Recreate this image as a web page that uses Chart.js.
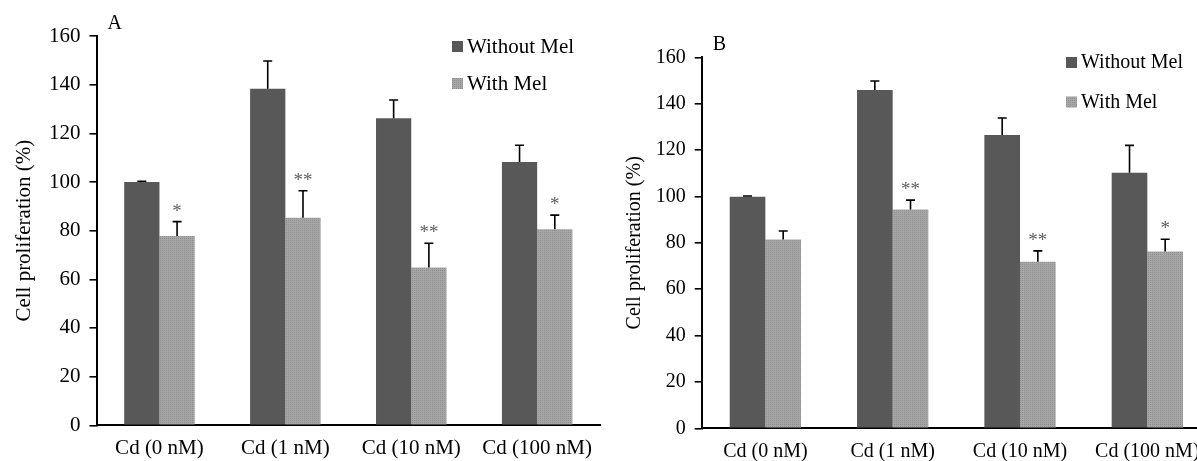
<!DOCTYPE html>
<html>
<head>
<meta charset="utf-8">
<script src="https://cdn.jsdelivr.net/npm/chart.js@4.4.1/dist/chart.umd.min.js"></script>
<style>
    html, body { margin: 0; padding: 0; background: #fff; width: 1197px; height: 461px; overflow: hidden; }
    .panel { position: absolute; top: 0; }
    #panelA { left: 0; width: 603px; height: 461px; }
    #panelB { left: 600px; width: 611px; height: 461px; }
</style>
</head>
<body>
<div class="panel" id="panelA"><canvas id="chartA"></canvas></div>
<div class="panel" id="panelB"><canvas id="chartB"></canvas></div>
<script>
// 分类与图例
const categories = ['Cd (0 nM)', 'Cd (1 nM)', 'Cd (10 nM)', 'Cd (100 nM)'];
const seriesNames = ['Without Mel', 'With Mel'];
const yAxisTitle = 'Cell proliferation (%)';
const yMin = 0, yMax = 160, yStep = 20;

// 图 A
const aWithout = [100, 138.3, 126.2, 108.2];
const aWithoutErr = [0.3, 11.4, 7.5, 6.9];
const aWith = [77.8, 85.3, 64.9, 80.6];
const aWithErr = [5.9, 11.1, 9.9, 5.8];
const aStars = ['*', '**', '**', '*'];

// 图 B
const bWithout = [99.9, 145.9, 126.5, 110.2];
const bWithoutErr = [0.3, 3.9, 7.3, 11.8];
const bWith = [81.4, 94.4, 71.8, 76.2];
const bWithErr = [3.7, 4.0, 4.7, 5.3];
const bStars = ['', '**', '**', '*'];

const FONT = "'Liberation Serif', 'Times New Roman', serif";
const DARK = '#585858';

// 浅灰网点填充
function makePattern() {
    const c = document.createElement('canvas');
    c.width = 2; c.height = 2;
    const g = c.getContext('2d');
    g.fillStyle = '#a6a6a6';
    g.fillRect(0, 0, 2, 2);
    g.fillStyle = '#8f8f8f';
    g.fillRect(0, 0, 1, 1);
    return g.createPattern(c, 'repeat');
}
const LIGHT = makePattern();

// 误差线、星号、图例、面板字母
const panelDecor = {
    id: 'panelDecor',
    afterDatasetsDraw(chart, args, opts) {
        const ctx = chart.ctx;
        const y = chart.scales.y;
        ctx.save();
        chart.data.datasets.forEach((ds, i) => {
            const meta = chart.getDatasetMeta(i);
            meta.data.forEach((bar, j) => {
                const cap = y.getPixelForValue(ds.data[j] + ds.errors[j]);
                ctx.strokeStyle = '#000';
                ctx.lineWidth = 1.6;
                ctx.beginPath();
                ctx.moveTo(bar.x, bar.y);
                ctx.lineTo(bar.x, cap);
                ctx.moveTo(bar.x - 4.5, cap);
                ctx.lineTo(bar.x + 4.5, cap);
                ctx.stroke();
                if (ds.stars && ds.stars[j]) {
                    ctx.fillStyle = '#5e5e5e';
                    ctx.font = '19px ' + FONT;
                    ctx.textAlign = 'center';
                    ctx.textBaseline = 'alphabetic';
                    ctx.fillText(ds.stars[j], bar.x, cap - 5);
                }
            });
        });

        // 图例
        const lg = opts.legend;
        ctx.font = lg.size + 'px ' + FONT;
        ctx.textAlign = 'left';
        ctx.textBaseline = 'middle';
        chart.data.datasets.forEach((ds, i) => {
            const cy = lg.y + i * lg.gap;
            ctx.fillStyle = ds.backgroundColor;
            ctx.fillRect(lg.x, cy - 5, 11, 11);
            ctx.fillStyle = '#000';
            ctx.fillText(ds.label, lg.x + 15, cy + 1);
        });

        // 面板字母
        ctx.font = opts.letterSize + 'px ' + FONT;
        ctx.textBaseline = 'alphabetic';
        ctx.fillText(opts.letter, chart.chartArea.left + 11, chart.chartArea.top - 7);
        ctx.restore();
    }
};

function makeChart(id, p) {
    const font = { family: FONT, size: p.fontSize };
    return new Chart(document.getElementById(id), {
        type: 'bar',
        data: {
            labels: categories,
            datasets: [
                { label: seriesNames[0], data: p.without, errors: p.withoutErr, backgroundColor: DARK,
                  categoryPercentage: 0.56, barPercentage: 1 },
                { label: seriesNames[1], data: p.withMel, errors: p.withErr, stars: p.stars, backgroundColor: LIGHT,
                  categoryPercentage: 0.56, barPercentage: 1 }
            ]
        },
        options: {
            responsive: true,
            maintainAspectRatio: false,
            animation: false,
            layout: { padding: { top: p.top, left: 0, right: 0, bottom: 0 } },
            scales: {
                x: {
                    offset: true,
                    grid: { display: false, drawTicks: false },
                    border: { display: true, color: '#000', width: 2 },
                    ticks: { color: '#000', font, padding: 11, maxRotation: 0, autoSkip: false },
                    afterFit: s => { s.height = p.xHeight; }
                },
                y: {
                    min: yMin, max: yMax,
                    ticks: { stepSize: yStep, color: '#000', font, padding: 9 },
                    grid: { drawOnChartArea: false, drawTicks: true, tickLength: 7, color: '#000', lineWidth: 1.6 },
                    border: { display: true, color: '#000', width: 2 },
                    title: { display: true, text: yAxisTitle, color: '#000', font, padding: { top: p.titlePad, bottom: 0 } },
                    afterFit: s => { s.width = p.yWidth; }
                }
            },
            plugins: {
                legend: { display: false },
                tooltip: { enabled: false },
                panelDecor: { legend: p.legend, letter: p.letter, letterSize: p.letterSize }
            }
        },
        plugins: [panelDecor]
    });
}

makeChart('chartA', {
    without: aWithout, withoutErr: aWithoutErr, withMel: aWith, withErr: aWithErr, stars: aStars,
    fontSize: 21, top: 36, xHeight: 35.7, yWidth: 96.5, titlePad: 12,
    legend: { x: 452, y: 46, gap: 37, size: 21 }, letter: 'A', letterSize: 20
});

makeChart('chartB', {
    without: bWithout, withoutErr: bWithoutErr, withMel: bWith, withErr: bWithErr, stars: bStars,
    fontSize: 20, top: 57.3, xHeight: 32.7, yWidth: 101.7, titlePad: 23,
    legend: { x: 466, y: 62, gap: 39.5, size: 20 }, letter: 'B', letterSize: 20
});
</script>
</body>
</html>
